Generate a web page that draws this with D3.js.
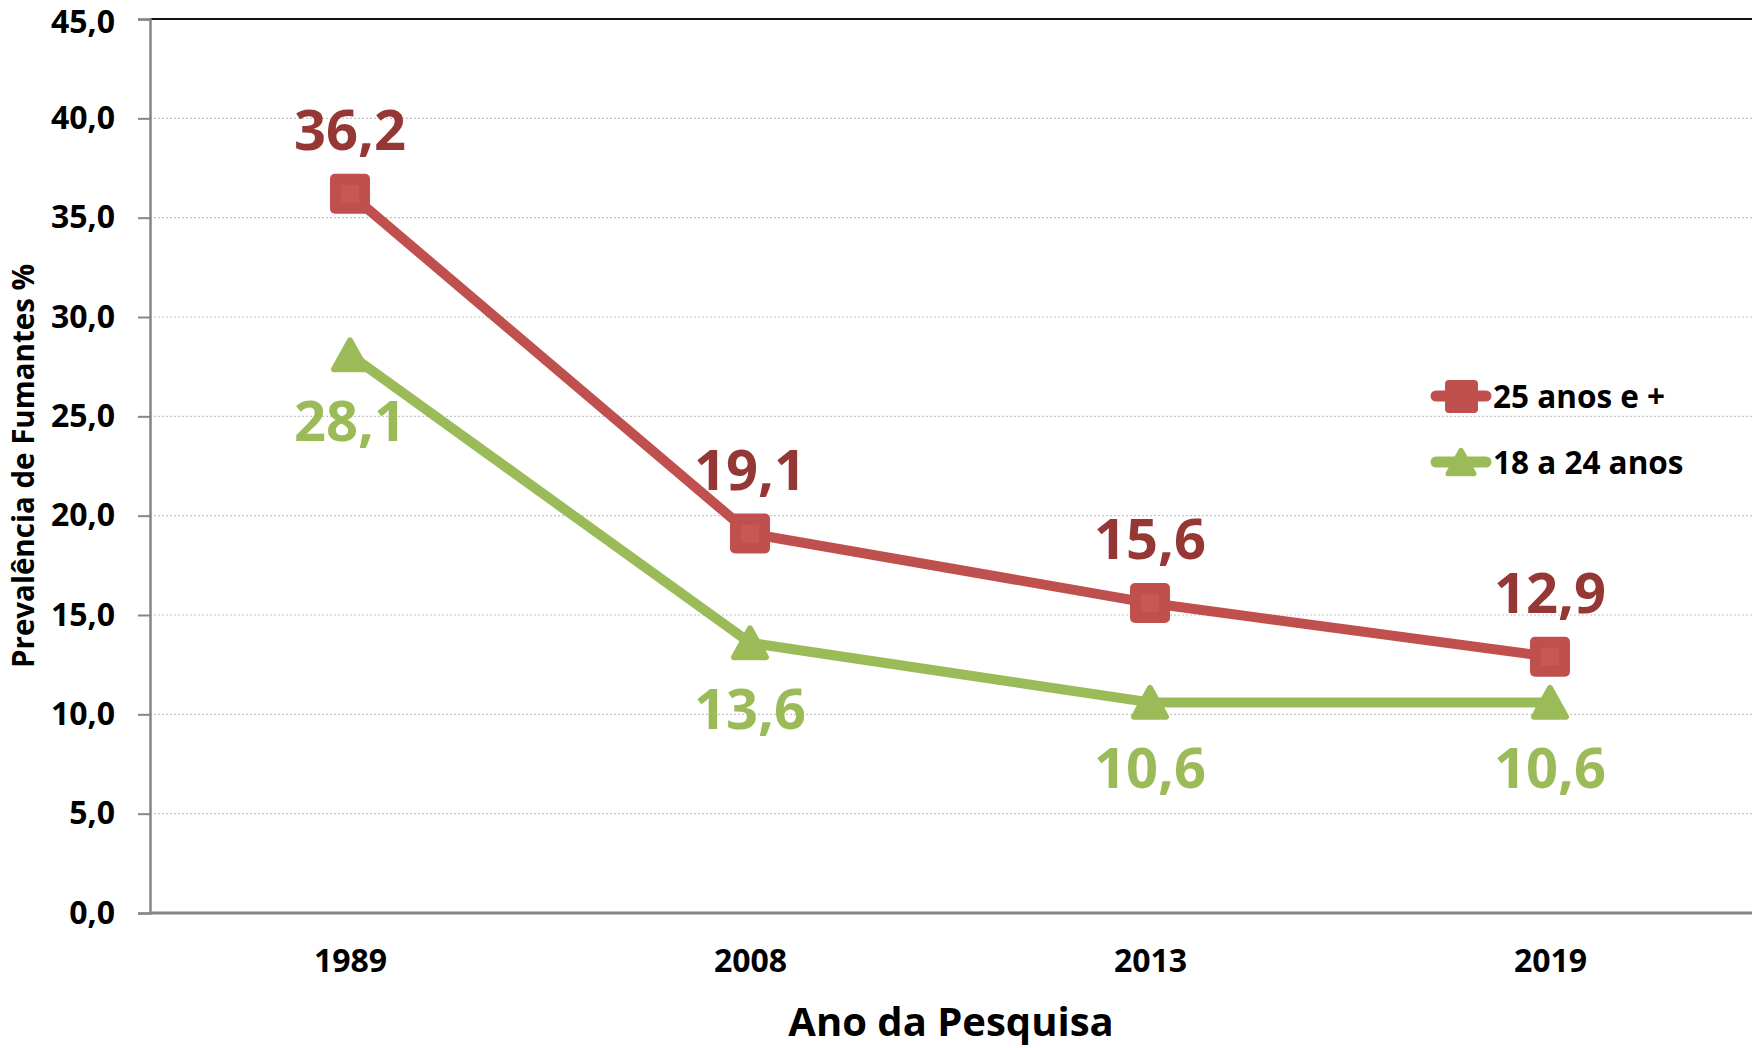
<!DOCTYPE html>
<html>
<head>
<meta charset="utf-8">
<script src="https://cdn.jsdelivr.net/npm/d3@7"></script>
<style>
  body { margin: 0; background: #fff; }
  text { font-family: "Open Sans", "Noto Sans", sans-serif; font-weight: 700; }
</style>
</head>
<body>
<div id="chart"></div>
<script>
// data
var years = ["1989", "2008", "2013", "2019"];
var adults = [36.2, 19.1, 15.6, 12.9];   // 25 anos e +
var young = [28.1, 13.6, 10.6, 10.6];    // 18 a 24 anos
var seriesNames = ["25 anos e +", "18 a 24 anos"];
var yTicks = [0, 5, 10, 15, 20, 25, 30, 35, 40, 45];

var W = 1752, H = 1048;
var margin = { top: 19, right: 2, bottom: 135, left: 150 };

var svg = d3.select("#chart").append("svg")
    .attr("width", W)
    .attr("height", H);

var x = d3.scalePoint()
    .domain(years)
    .range([margin.left, W - margin.right])
    .padding(0.5);

var y = d3.scaleLinear()
    .domain([0, 45])
    .range([H - margin.bottom, margin.top]);

var fmt = function(d) { return d3.format(".1f")(d).replace(".", ","); };

// gridlines
svg.append("g")
    .selectAll("line")
    .data(yTicks.filter(function(d) { return d > 0 && d < 45; }))
    .enter()
    .append("line")
    .attr("x1", margin.left)
    .attr("x2", W)
    .attr("y1", function(d) { return y(d); })
    .attr("y2", function(d) { return y(d); })
    .attr("stroke", "#c4c4c4")
    .attr("stroke-width", 1.2)
    .attr("stroke-dasharray", "2,2");

// top border
svg.append("line")
    .attr("x1", margin.left).attr("x2", W)
    .attr("y1", y(45)).attr("y2", y(45))
    .attr("stroke", "#111").attr("stroke-width", 2);

// y axis
var yAxis = svg.append("g")
    .attr("transform", "translate(" + margin.left + ",0)")
    .call(d3.axisLeft(y).tickValues(yTicks).tickFormat(fmt).tickSize(12).tickPadding(23));
yAxis.select(".domain").attr("stroke", "#868686").attr("stroke-width", 2.5);
yAxis.selectAll(".tick line").attr("stroke", "#868686").attr("stroke-width", 2);
yAxis.selectAll(".tick text")
    .attr("fill", "#000")
    .style("font-size", "32px")
    .style("font-family", "'Open Sans', sans-serif")
    .style("font-weight", 700);
// keep the top label inside the picture
yAxis.selectAll(".tick text").filter(function(d) { return d === 45; }).attr("dy", "0.42em");

// x axis
var xAxis = svg.append("g")
    .attr("transform", "translate(0," + y(0) + ")")
    .call(d3.axisBottom(x).tickSize(0).tickPadding(36));
xAxis.select(".domain").attr("stroke", "#868686").attr("stroke-width", 3)
    .attr("d", "M" + margin.left + ",0H" + W);
xAxis.selectAll(".tick text")
    .attr("fill", "#000")
    .style("font-size", "32px")
    .style("font-family", "'Open Sans', sans-serif")
    .style("font-weight", 700);

// axis titles
svg.append("text")
    .attr("x", 951)
    .attr("y", 1036)
    .attr("text-anchor", "middle")
    .style("font-size", "40px")
    .text("Ano da Pesquisa");

svg.append("text")
    .attr("transform", "translate(34,466) rotate(-90)")
    .attr("text-anchor", "middle")
    .style("font-size", "29.5px")
    .text("Prevalência de Fumantes %");

var red = "#c0504d", redDark = "#953735", green = "#9bbb59";

var line = d3.line()
    .x(function(d, i) { return x(years[i]); })
    .y(function(d) { return y(d); });

function triPath(cx, cy, s) {
    var h = s * 0.9;
    return "M" + cx + "," + (cy - h / 2) +
        "L" + (cx + s / 2) + "," + (cy + h / 2) +
        "L" + (cx - s / 2) + "," + (cy + h / 2) + "Z";
}

// green series
svg.append("path")
    .datum(young)
    .attr("d", line)
    .attr("fill", "none")
    .attr("stroke", green)
    .attr("stroke-width", 10)
    .attr("stroke-linejoin", "round");

svg.selectAll(".tri")
    .data(young)
    .enter()
    .append("path")
    .attr("class", "tri")
    .attr("d", function(d, i) { return triPath(x(years[i]), y(d), 32); })
    .attr("fill", green)
    .attr("stroke", green)
    .attr("stroke-width", 6)
    .attr("stroke-linejoin", "round");

svg.selectAll(".glabel")
    .data(young)
    .enter()
    .append("text")
    .attr("class", "glabel")
    .attr("x", function(d, i) { return x(years[i]); })
    .attr("y", function(d) { return y(d) + 86; })
    .attr("text-anchor", "middle")
    .attr("fill", green)
    .style("font-size", "56px")
    .text(function(d) { return fmt(d); });

// red series
svg.append("path")
    .datum(adults)
    .attr("d", line)
    .attr("fill", "none")
    .attr("stroke", red)
    .attr("stroke-width", 10)
    .attr("stroke-linejoin", "round");

var sq = 40;
svg.selectAll(".sq")
    .data(adults)
    .enter()
    .append("rect")
    .attr("class", "sq")
    .attr("x", function(d, i) { return x(years[i]) - sq / 2; })
    .attr("y", function(d) { return y(d) - sq / 2; })
    .attr("width", sq)
    .attr("height", sq)
    .attr("rx", 5)
    .attr("fill", red);

svg.selectAll(".sqin")
    .data(adults)
    .enter()
    .append("rect")
    .attr("class", "sqin")
    .attr("x", function(d, i) { return x(years[i]) - 9; })
    .attr("y", function(d) { return y(d) - 9; })
    .attr("width", 18)
    .attr("height", 18)
    .attr("fill", "#c75856");

svg.selectAll(".rlabel")
    .data(adults)
    .enter()
    .append("text")
    .attr("class", "rlabel")
    .attr("x", function(d, i) { return x(years[i]); })
    .attr("y", function(d) { return y(d) - 44; })
    .attr("text-anchor", "middle")
    .attr("fill", redDark)
    .style("font-size", "56px")
    .text(function(d) { return fmt(d); });

// legend
var legend = svg.append("g").attr("transform", "translate(1430,0)");
var legRows = [
    { name: seriesNames[0], color: red, cy: 396, shape: "square" },
    { name: seriesNames[1], color: green, cy: 462, shape: "tri" }
];
legRows.forEach(function(r) {
    legend.append("line")
        .attr("x1", 6).attr("x2", 56)
        .attr("y1", r.cy).attr("y2", r.cy)
        .attr("stroke", r.color)
        .attr("stroke-width", 11)
        .attr("stroke-linecap", "round");
    if (r.shape === "square") {
        legend.append("rect")
            .attr("x", 15).attr("y", r.cy - 16)
            .attr("width", 33).attr("height", 33)
            .attr("rx", 4)
            .attr("fill", r.color);
    } else {
        legend.append("path")
            .attr("d", triPath(31, r.cy, 26))
            .attr("fill", r.color)
            .attr("stroke", r.color)
            .attr("stroke-width", 5)
            .attr("stroke-linejoin", "round");
    }
    legend.append("text")
        .attr("x", 63)
        .attr("y", r.cy + 12)
        .attr("fill", "#000")
        .style("font-size", "31.5px")
        .text(r.name);
});
</script>
</body>
</html>
